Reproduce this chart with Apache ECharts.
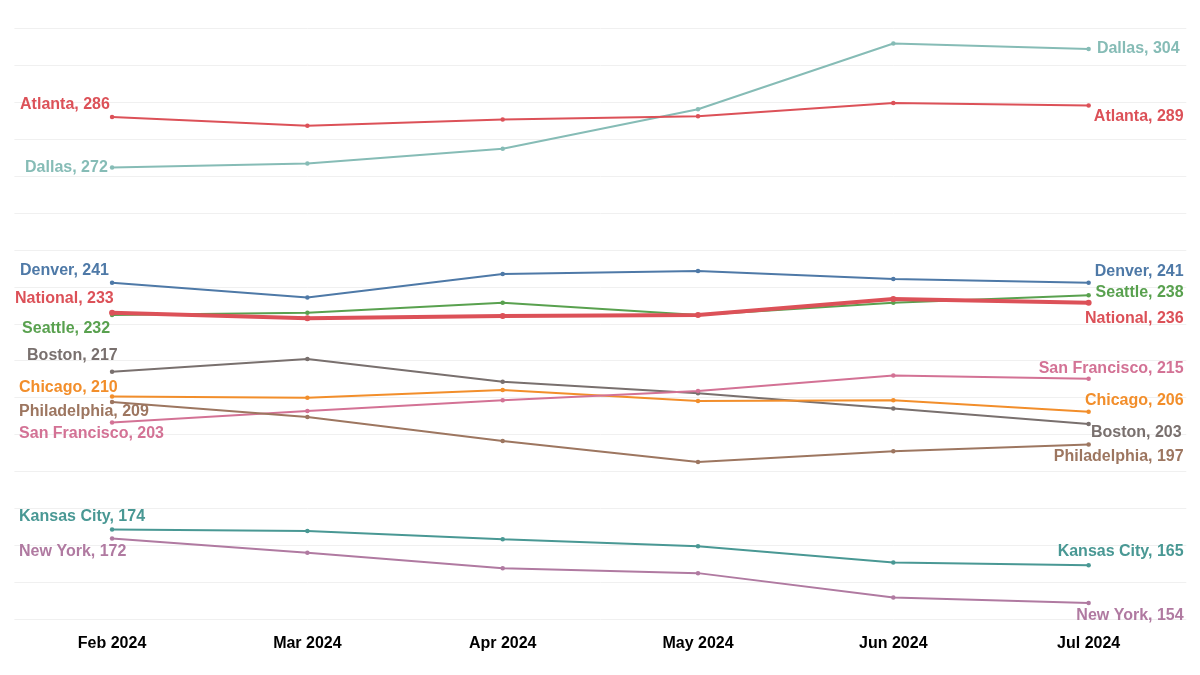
<!DOCTYPE html>
<html>
<head>
<meta charset="utf-8">
<script src="https://cdn.jsdelivr.net/npm/echarts@6/dist/echarts.min.js"></script>
<style>
html,body{margin:0;padding:0;background:#fff;}
#main{width:1200px;height:675px;}
</style>
</head>
<body>
<div id="main"></div>
<script>
// ---- data ----
const months = ['Feb 2024', 'Mar 2024', 'Apr 2024', 'May 2024', 'Jun 2024', 'Jul 2024'];
const cities = ['Dallas', 'Atlanta', 'Denver', 'Seattle', 'Boston', 'Chicago', 'San Francisco', 'Philadelphia', 'Kansas City', 'New York', 'National'];
const dallas       = [272.3, 273.4, 277.4, 288.1, 305.9, 304.4];
const atlanta      = [286.0, 283.6, 285.3, 286.2, 289.8, 289.1];
const denver       = [241.1, 237.1, 243.5, 244.3, 242.1, 241.1];
const seattle      = [232.4, 233.0, 235.7, 232.4, 235.7, 237.7];
const boston       = [217.0, 220.5, 214.3, 211.2, 207.1, 202.9];
const chicago      = [210.3, 210.0, 212.1, 209.1, 209.3, 206.2];
const sanFrancisco = [203.3, 206.4, 209.3, 211.8, 216.0, 215.1];
const philadelphia = [208.8, 204.8, 198.3, 192.6, 195.5, 197.3];
const kansasCity   = [174.3, 173.9, 171.7, 169.8, 165.4, 164.6];
const newYork      = [171.9, 168.0, 163.8, 162.5, 155.9, 154.4];
const national     = [233.0, 231.5, 232.1, 232.4, 236.7, 235.7];
const seriesValues = [dallas, atlanta, denver, seattle, boston, chicago, sanFrancisco, philadelphia, kansasCity, newYork, national];

// ---- styles ----
const colors = ['#86bcb6', '#dc5158', '#4e79a7', '#59a14f', '#79706e', '#f28e2b', '#d37295', '#9d7660', '#499894', '#b07aa1', '#dc5158'];
const widths = [2, 2, 2, 2, 2, 2, 2, 2, 2, 2, 4];
// label offsets [dx, dy] from first / last point
const startOff = [[-87, 0], [-92, -12.7], [-92, -12.5], [-90, 13.3], [-85, -16], [-93, -9], [-93, 11], [-93, 9.4], [-93, -13.3], [-93, 12.7], [-97, -14.4]];
const endOff   = [[91, 0], [95, 11.4], [95, -11], [95, -2.6], [93, 8.7], [95, -10.7], [95, -10.7], [95, 12], [95, -13.6], [95, 12.7], [95, 15.6]];

const labelFont = { fontFamily: 'Liberation Sans, Arial, sans-serif', fontSize: 16, fontWeight: 'bold' };

const series = cities.map((name, i) => {
  const vals = seriesValues[i];
  const last = vals.length - 1;
  const sz = widths[i] > 2 ? 6 : 4.5;
  const half = sz / 2;
  const data = vals.map((v, j) => {
    if (j === 0) {
      return { value: v, label: Object.assign({ show: true,
        position: [startOff[i][0] + half, startOff[i][1] + half], align: 'left', verticalAlign: 'middle',
        color: colors[i], formatter: name + ', ' + Math.round(v) }, labelFont) };
    }
    if (j === last) {
      return { value: v, label: Object.assign({ show: true,
        position: [endOff[i][0] + half, endOff[i][1] + half], align: 'right', verticalAlign: 'middle',
        color: colors[i], formatter: name + ', ' + Math.round(v) }, labelFont) };
    }
    return v;
  });
  return {
    name: name,
    type: 'line',
    data: data,
    symbol: 'circle',
    symbolSize: sz,
    lineStyle: { color: colors[i], width: widths[i] },
    itemStyle: { color: colors[i] },
    label: { show: false },
    emphasis: { disabled: true },
    animation: false,
    z: i === cities.length - 1 ? 3 : 2
  };
});

const chart = echarts.init(document.getElementById('main'), null, { renderer: 'canvas' });
chart.setOption({
  backgroundColor: '#ffffff',
  animation: false,
  grid: { left: 14.4, right: 13.7, top: 28.3, bottom: 55.7 },
  xAxis: {
    type: 'category',
    data: months,
    boundaryGap: true,
    axisLine: { show: false },
    axisTick: { show: false },
    axisLabel: { color: '#000', fontFamily: 'Liberation Sans, Arial, sans-serif', fontSize: 16, fontWeight: 'bold', margin: 16 },
    splitLine: { show: false }
  },
  yAxis: {
    type: 'value',
    min: 150,
    max: 310,
    interval: 10,
    axisLine: { show: false },
    axisTick: { show: false },
    axisLabel: { show: false },
    splitLine: { show: true, lineStyle: { color: '#f0f0f0', width: 1 } }
  },
  series: series
});
</script>
</body>
</html>
